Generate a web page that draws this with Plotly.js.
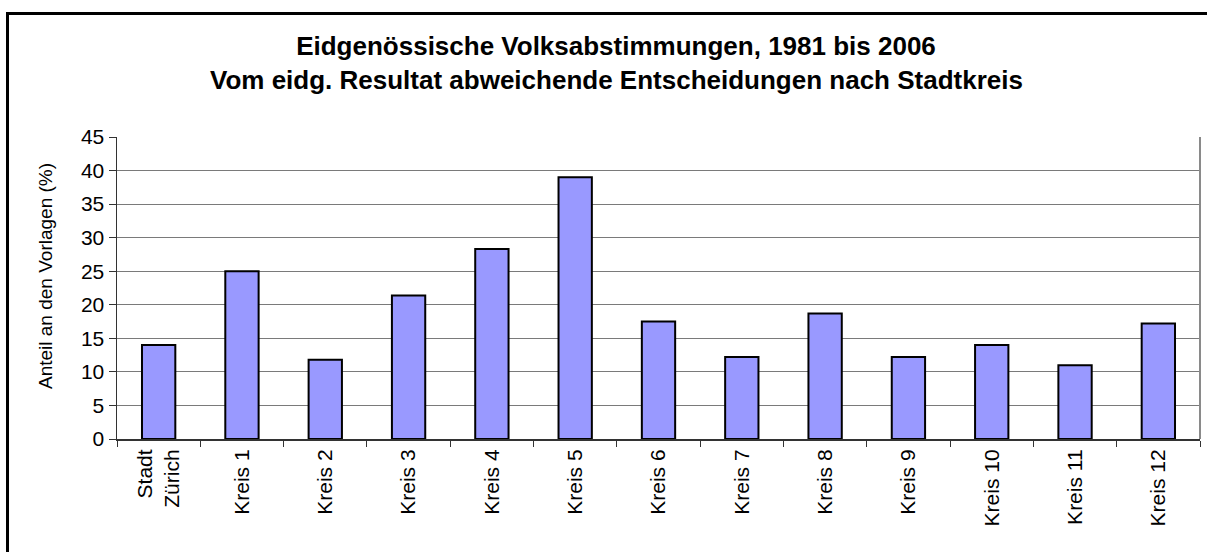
<!DOCTYPE html>
<html>
<head>
<meta charset="utf-8">
<script src="https://cdn.plot.ly/plotly-3.0.1.min.js"></script>
<style>
  html, body { margin: 0; padding: 0; background: #ffffff; overflow: hidden; }
  #chart { width: 1207px; height: 552px; }
</style>
</head>
<body>
<div id="chart"></div>
<script>
const categories = ["Stadt<br>Zürich", "Kreis 1", "Kreis 2", "Kreis 3", "Kreis 4", "Kreis 5", "Kreis 6",
                    "Kreis 7", "Kreis 8", "Kreis 9", "Kreis 10", "Kreis 11", "Kreis 12"];
const anteil = [14.0, 25.0, 11.8, 21.4, 28.3, 39.0, 17.5, 12.2, 18.7, 12.2, 14.0, 11.0, 17.2];
const yTicks = [0, 5, 10, 15, 20, 25, 30, 35, 40, 45];
const titleLine1 = "Eidgenössische Volksabstimmungen, 1981 bis 2006";
const titleLine2 = "Vom eidg. Resultat abweichende Entscheidungen nach Stadtkreis";
const yTitle = "Anteil an den Vorlagen (%)";

const W = 1207, H = 552;
const M = { l: 117, r: 7, t: 137, b: 113 };
const pw = W - M.l - M.r, ph = H - M.t - M.b;
const px = x => (x - M.l) / pw;
const py = y => 1 - (y - M.t) / ph;

const font = "'Liberation Sans', Arial, sans-serif";
const titleSize = 26;
const tickSize = 21;

const trace = {
  type: "bar",
  x: categories,
  y: anteil,
  marker: { color: "#9999FF", line: { color: "#000000", width: 2 } },
  hoverinfo: "x+y"
};

const layout = {
  width: W, height: H,
  margin: M,
  paper_bgcolor: "#ffffff",
  plot_bgcolor: "#ffffff",
  showlegend: false,
  bargap: 0.6,
  font: { family: font, size: tickSize, color: "#000000" },
  title: {
    text: "<b>" + titleLine1 + "</b>",
    x: 616 / W, xref: "container", xanchor: "center",
    y: 1 - 46 / H, yref: "container", yanchor: "middle",
    font: { family: font, size: titleSize, color: "#000000" }
  },
  xaxis: {
    type: "category",
    tickangle: -90,
    ticks: "outside", ticklen: 6, tickwidth: 1, tickcolor: "#333333",
    tickson: "boundaries",
    showline: true, linecolor: "#333333", linewidth: 2,
    showgrid: false,
    tickfont: { family: font, size: tickSize, color: "#000000" },
    fixedrange: true
  },
  yaxis: {
    range: [0, 45],
    tickvals: yTicks,
    ticks: "outside", ticklen: 7, tickwidth: 1, tickcolor: "#333333",
    showline: true, linecolor: "#333333", linewidth: 1.5,
    showgrid: true, gridcolor: "#7a7a7a", gridwidth: 1,
    zeroline: false,
    tickfont: { family: font, size: tickSize, color: "#000000" },
    fixedrange: true
  },
  annotations: [
    {
      text: "<b>" + titleLine2 + "</b>",
      xref: "paper", yref: "paper",
      x: px(616), y: py(80), xanchor: "center", yanchor: "middle",
      showarrow: false,
      font: { family: font, size: titleSize, color: "#000000" }
    },
    {
      text: yTitle,
      xref: "paper", yref: "paper",
      x: px(45), y: py(276), xanchor: "center", yanchor: "middle",
      textangle: -90, showarrow: false,
      font: { family: font, size: 19, color: "#000000" }
    }
  ],
  shapes: [
    { type: "line", xref: "paper", yref: "paper", x0: 1, x1: 1, y0: 0, y1: 1,
      line: { color: "#8a8a8a", width: 2 } },
    { type: "rect", xref: "paper", yref: "paper",
      x0: px(7.5), x1: px(W + 20), y0: py(H + 20), y1: py(13.5),
      line: { color: "#000000", width: 3 }, fillcolor: "rgba(0,0,0,0)", layer: "above" }
  ]
};

Plotly.newPlot("chart", [trace], layout, { displayModeBar: false, staticPlot: true });
</script>
</body>
</html>
